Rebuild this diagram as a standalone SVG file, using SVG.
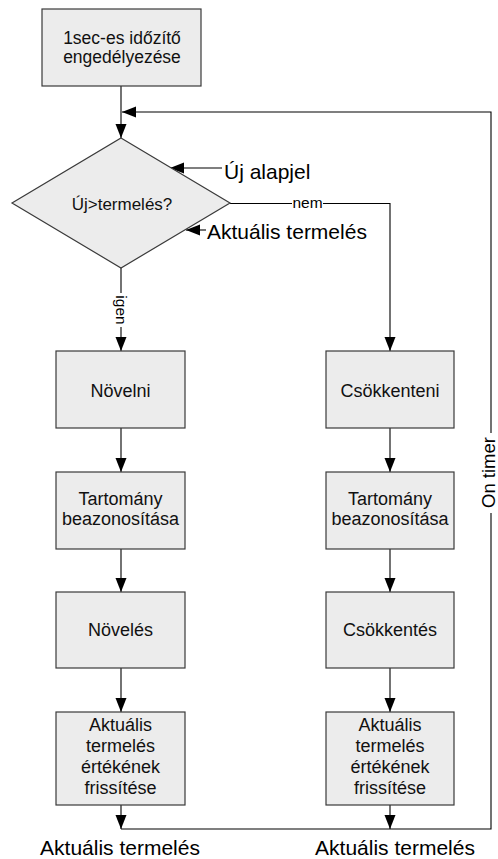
<svg xmlns="http://www.w3.org/2000/svg" width="498" height="859" viewBox="0 0 498 859">
<style>
.box{fill:#ececec;stroke:#3a3a3a;stroke-width:1.2}
.t{font-family:"Liberation Sans",Arial,sans-serif;font-size:18px;fill:#111;text-anchor:middle}
.big{font-family:"Liberation Sans",Arial,sans-serif;font-size:21px;fill:#000}
.lbl{font-family:"Liberation Sans",Arial,sans-serif;font-size:15.5px;fill:#000;text-anchor:middle}
.c{fill:none;stroke:#000;stroke-width:1.1}
</style>
<defs>
<marker id="ah" markerUnits="userSpaceOnUse" markerWidth="15" markerHeight="12" refX="14" refY="5.5" orient="auto">
<path d="M0,0 L14,5.5 L0,11 z" fill="#000"/>
</marker>
</defs>
<rect width="498" height="859" fill="#fff"/>
<g id="connectors">
<path class="c" d="M121,86 V138" marker-end="url(#ah)"/>
<path class="c" d="M121,268 V351" marker-end="url(#ah)"/>
<path class="c" d="M230,203.5 H390 V351" marker-end="url(#ah)"/>
<path class="c" d="M121,428 V472" marker-end="url(#ah)"/>
<path class="c" d="M121,549 V592" marker-end="url(#ah)"/>
<path class="c" d="M121,668 V712" marker-end="url(#ah)"/>
<path class="c" d="M390,428 V472" marker-end="url(#ah)"/>
<path class="c" d="M390,549 V592" marker-end="url(#ah)"/>
<path class="c" d="M390,668 V712" marker-end="url(#ah)"/>
<path class="c" d="M121,805 V829" marker-end="url(#ah)"/>
<path class="c" d="M390,805 V829" marker-end="url(#ah)"/>
<path class="c" d="M121,829 H491 V112 H122" marker-end="url(#ah)"/>
<path class="c" d="M222,168 H170" marker-end="url(#ah)"/>
<path class="c" d="M206,230 H186" marker-end="url(#ah)"/>
<rect x="292" y="196" width="31" height="14" fill="#fff"/>
<text class="lbl" x="307.5" y="207.5">nem</text>
<rect x="113" y="293" width="15" height="34" fill="#fff"/>
<text class="lbl" x="121" y="310" dy="0.35em" transform="rotate(90 121 310)">igen</text>
<rect x="480" y="433" width="18" height="80" fill="#fff"/>
<text class="lbl" style="font-size:18.5px" x="489" y="472.5" dy="0.35em" transform="rotate(-90 489 472.5)">On timer</text>
</g>
<g id="start">
<rect class="box" x="42" y="9" width="159" height="77"/>
<text class="t" style="font-size:17.5px" x="122" y="44">1sec-es időzítő</text>
<text class="t" style="font-size:17.5px" x="122" y="63">engedélyezése</text>
</g>
<g id="decision">
<polygon class="box" points="121,138 230,203 121,268 12,203"/>
<text class="t" style="font-size:17px" x="122" y="210">Új&gt;termelés?</text>
</g>
<g id="in-uj-alapjel">
<text class="big" x="224" y="179">Új alapjel</text>
</g>
<g id="in-aktualis">
<text class="big" x="207" y="239">Aktuális termelés</text>
</g>
<g id="novelni">
<rect class="box" x="56" y="351" width="129" height="77"/>
<text class="t" x="120.5" y="397">Növelni</text>
</g>
<g id="tartomany-left">
<rect class="box" x="56" y="472" width="129" height="77"/>
<text class="t" x="120.5" y="505">Tartomány</text>
<text class="t" x="120.5" y="525">beazonosítása</text>
</g>
<g id="noveles">
<rect class="box" x="56" y="592" width="129" height="76"/>
<text class="t" x="120.5" y="636">Növelés</text>
</g>
<g id="frissites-left">
<rect class="box" x="56" y="712" width="129" height="93"/>
<text class="t" x="120.5" y="731">Aktuális</text>
<text class="t" x="120.5" y="752">termelés</text>
<text class="t" x="120.5" y="773">értékének</text>
<text class="t" x="120.5" y="794">frissítése</text>
</g>
<g id="csokkenteni">
<rect class="box" x="326" y="351" width="128" height="77"/>
<text class="t" x="390" y="397">Csökkenteni</text>
</g>
<g id="tartomany-right">
<rect class="box" x="326" y="472" width="128" height="77"/>
<text class="t" x="390" y="505">Tartomány</text>
<text class="t" x="390" y="525">beazonosítása</text>
</g>
<g id="csokkentes">
<rect class="box" x="326" y="592" width="128" height="76"/>
<text class="t" x="390" y="636">Csökkentés</text>
</g>
<g id="frissites-right">
<rect class="box" x="326" y="712" width="128" height="93"/>
<text class="t" x="390" y="731">Aktuális</text>
<text class="t" x="390" y="752">termelés</text>
<text class="t" x="390" y="773">értékének</text>
<text class="t" x="390" y="794">frissítése</text>
</g>
<g id="out-left">
<text class="big" x="120" y="855" text-anchor="middle">Aktuális termelés</text>
</g>
<g id="out-right">
<text class="big" x="395" y="855" text-anchor="middle">Aktuális termelés</text>
</g>
</svg>
